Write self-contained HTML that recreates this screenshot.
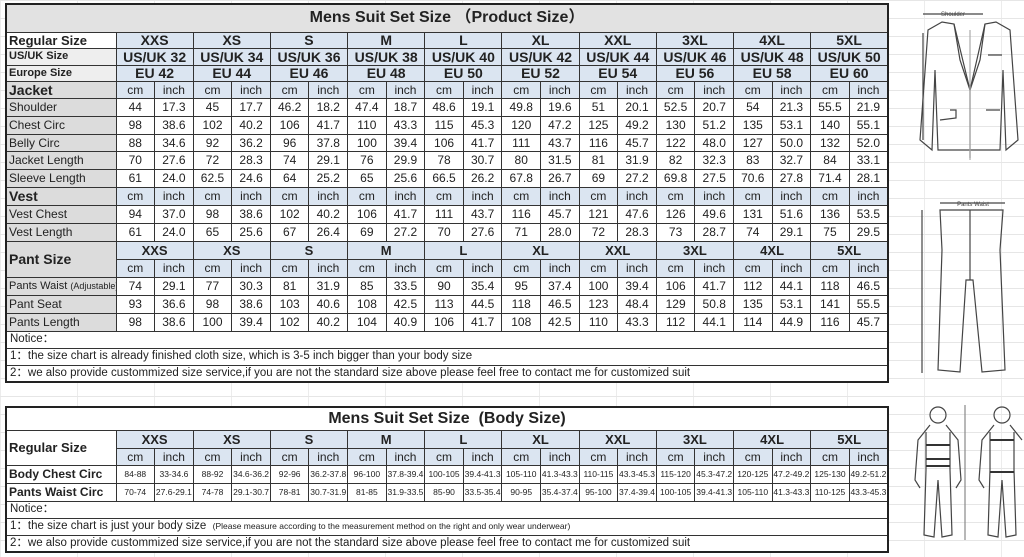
<!DOCTYPE html>
<html><head><meta charset="utf-8">
<style>
html,body{margin:0;padding:0;}
body{width:1024px;height:557px;position:relative;overflow:hidden;background:#fff;font-family:"Liberation Sans","Noto Sans CJK SC",sans-serif;
background-image:linear-gradient(#e6e6e6 1px,transparent 1px),linear-gradient(90deg,#ececec 1px,transparent 1px);background-size:100% 18px,77px 100%;}
table{position:absolute;left:5px;border-collapse:collapse;table-layout:fixed;width:882px;border:2px solid #222;background:#fff;}
td{border:1px solid #333;padding:0;text-align:center;font-size:12px;color:#222;white-space:nowrap;overflow:hidden;line-height:1;}
td.l{text-align:left;padding-left:2px;background:#dcdcdc;}
td.b{background:#dbe5f1;}
.hb{font-weight:bold;font-size:14px;}
.h2{font-weight:bold;font-size:13px;}
.lb{font-weight:bold;font-size:13px;}
.t{font-weight:bold;font-size:16px;}
td.s{font-size:8.5px;}
.n{text-align:left;padding-left:3px;font-size:11.5px;}
</style></head><body>

<table style="top:3px">
<colgroup><col style="width:110px"><col span="20" style="width:38.6px"></colgroup>
<tr style="height:28px"><td colspan="21" style="background:#e2e2e2" class="t">Mens Suit Set Size （Product Size）</td></tr>
<tr style="height:16px"><td class="l lb" style="background:#fff">Regular Size</td><td colspan="2" class="b hb">XXS</td><td colspan="2" class="b hb">XS</td><td colspan="2" class="b hb">S</td><td colspan="2" class="b hb">M</td><td colspan="2" class="b hb">L</td><td colspan="2" class="b hb">XL</td><td colspan="2" class="b hb">XXL</td><td colspan="2" class="b hb">3XL</td><td colspan="2" class="b hb">4XL</td><td colspan="2" class="b hb">5XL</td></tr>
<tr style="height:17px"><td class="l lb" style="font-size:11px;background:#eee">US/UK Size</td><td colspan="2" class="b hb">US/UK 32</td><td colspan="2" class="b hb">US/UK 34</td><td colspan="2" class="b hb">US/UK 36</td><td colspan="2" class="b hb">US/UK 38</td><td colspan="2" class="b hb">US/UK 40</td><td colspan="2" class="b hb">US/UK 42</td><td colspan="2" class="b hb">US/UK 44</td><td colspan="2" class="b hb">US/UK 46</td><td colspan="2" class="b hb">US/UK 48</td><td colspan="2" class="b hb">US/UK 50</td></tr>
<tr style="height:16px"><td class="l lb" style="font-size:11px;background:#eee">Europe Size</td><td colspan="2" class="b hb">EU 42</td><td colspan="2" class="b hb">EU 44</td><td colspan="2" class="b hb">EU 46</td><td colspan="2" class="b hb">EU 48</td><td colspan="2" class="b hb">EU 50</td><td colspan="2" class="b hb">EU 52</td><td colspan="2" class="b hb">EU 54</td><td colspan="2" class="b hb">EU 56</td><td colspan="2" class="b hb">EU 58</td><td colspan="2" class="b hb">EU 60</td></tr>
<tr style="height:17px"><td class="l hb">Jacket</td><td class="b">cm</td><td class="b">inch</td><td class="b">cm</td><td class="b">inch</td><td class="b">cm</td><td class="b">inch</td><td class="b">cm</td><td class="b">inch</td><td class="b">cm</td><td class="b">inch</td><td class="b">cm</td><td class="b">inch</td><td class="b">cm</td><td class="b">inch</td><td class="b">cm</td><td class="b">inch</td><td class="b">cm</td><td class="b">inch</td><td class="b">cm</td><td class="b">inch</td></tr>
<tr style="height:18px"><td class="l">Shoulder</td><td>44</td><td>17.3</td><td>45</td><td>17.7</td><td>46.2</td><td>18.2</td><td>47.4</td><td>18.7</td><td>48.6</td><td>19.1</td><td>49.8</td><td>19.6</td><td>51</td><td>20.1</td><td>52.5</td><td>20.7</td><td>54</td><td>21.3</td><td>55.5</td><td>21.9</td></tr>
<tr style="height:18px"><td class="l">Chest Circ</td><td>98</td><td>38.6</td><td>102</td><td>40.2</td><td>106</td><td>41.7</td><td>110</td><td>43.3</td><td>115</td><td>45.3</td><td>120</td><td>47.2</td><td>125</td><td>49.2</td><td>130</td><td>51.2</td><td>135</td><td>53.1</td><td>140</td><td>55.1</td></tr>
<tr style="height:17px"><td class="l">Belly Circ</td><td>88</td><td>34.6</td><td>92</td><td>36.2</td><td>96</td><td>37.8</td><td>100</td><td>39.4</td><td>106</td><td>41.7</td><td>111</td><td>43.7</td><td>116</td><td>45.7</td><td>122</td><td>48.0</td><td>127</td><td>50.0</td><td>132</td><td>52.0</td></tr>
<tr style="height:18px"><td class="l">Jacket Length</td><td>70</td><td>27.6</td><td>72</td><td>28.3</td><td>74</td><td>29.1</td><td>76</td><td>29.9</td><td>78</td><td>30.7</td><td>80</td><td>31.5</td><td>81</td><td>31.9</td><td>82</td><td>32.3</td><td>83</td><td>32.7</td><td>84</td><td>33.1</td></tr>
<tr style="height:18px"><td class="l">Sleeve Length</td><td>61</td><td>24.0</td><td>62.5</td><td>24.6</td><td>64</td><td>25.2</td><td>65</td><td>25.6</td><td>66.5</td><td>26.2</td><td>67.8</td><td>26.7</td><td>69</td><td>27.2</td><td>69.8</td><td>27.5</td><td>70.6</td><td>27.8</td><td>71.4</td><td>28.1</td></tr>
<tr style="height:18px"><td class="l hb">Vest</td><td class="b">cm</td><td class="b">inch</td><td class="b">cm</td><td class="b">inch</td><td class="b">cm</td><td class="b">inch</td><td class="b">cm</td><td class="b">inch</td><td class="b">cm</td><td class="b">inch</td><td class="b">cm</td><td class="b">inch</td><td class="b">cm</td><td class="b">inch</td><td class="b">cm</td><td class="b">inch</td><td class="b">cm</td><td class="b">inch</td><td class="b">cm</td><td class="b">inch</td></tr>
<tr style="height:18px"><td class="l">Vest Chest</td><td>94</td><td>37.0</td><td>98</td><td>38.6</td><td>102</td><td>40.2</td><td>106</td><td>41.7</td><td>111</td><td>43.7</td><td>116</td><td>45.7</td><td>121</td><td>47.6</td><td>126</td><td>49.6</td><td>131</td><td>51.6</td><td>136</td><td>53.5</td></tr>
<tr style="height:18px"><td class="l">Vest Length</td><td>61</td><td>24.0</td><td>65</td><td>25.6</td><td>67</td><td>26.4</td><td>69</td><td>27.2</td><td>70</td><td>27.6</td><td>71</td><td>28.0</td><td>72</td><td>28.3</td><td>73</td><td>28.7</td><td>74</td><td>29.1</td><td>75</td><td>29.5</td></tr>
<tr style="height:18px"><td class="l hb" rowspan="2">Pant Size</td><td colspan="2" class="b h2">XXS</td><td colspan="2" class="b h2">XS</td><td colspan="2" class="b h2">S</td><td colspan="2" class="b h2">M</td><td colspan="2" class="b h2">L</td><td colspan="2" class="b h2">XL</td><td colspan="2" class="b h2">XXL</td><td colspan="2" class="b h2">3XL</td><td colspan="2" class="b h2">4XL</td><td colspan="2" class="b h2">5XL</td></tr>
<tr style="height:18px"><td class="b">cm</td><td class="b">inch</td><td class="b">cm</td><td class="b">inch</td><td class="b">cm</td><td class="b">inch</td><td class="b">cm</td><td class="b">inch</td><td class="b">cm</td><td class="b">inch</td><td class="b">cm</td><td class="b">inch</td><td class="b">cm</td><td class="b">inch</td><td class="b">cm</td><td class="b">inch</td><td class="b">cm</td><td class="b">inch</td><td class="b">cm</td><td class="b">inch</td></tr>
<tr style="height:18px"><td class="l" style="font-size:11px">Pants Waist <span style="font-size:9px">(Adjustable)</span></td><td>74</td><td>29.1</td><td>77</td><td>30.3</td><td>81</td><td>31.9</td><td>85</td><td>33.5</td><td>90</td><td>35.4</td><td>95</td><td>37.4</td><td>100</td><td>39.4</td><td>106</td><td>41.7</td><td>112</td><td>44.1</td><td>118</td><td>46.5</td></tr>
<tr style="height:18px"><td class="l">Pant Seat</td><td>93</td><td>36.6</td><td>98</td><td>38.6</td><td>103</td><td>40.6</td><td>108</td><td>42.5</td><td>113</td><td>44.5</td><td>118</td><td>46.5</td><td>123</td><td>48.4</td><td>129</td><td>50.8</td><td>135</td><td>53.1</td><td>141</td><td>55.5</td></tr>
<tr style="height:18px"><td class="l">Pants Length</td><td>98</td><td>38.6</td><td>100</td><td>39.4</td><td>102</td><td>40.2</td><td>104</td><td>40.9</td><td>106</td><td>41.7</td><td>108</td><td>42.5</td><td>110</td><td>43.3</td><td>112</td><td>44.1</td><td>114</td><td>44.9</td><td>116</td><td>45.7</td></tr>
<tr style="height:17px"><td colspan="21" class="n">Notice：</td></tr>
<tr style="height:17px"><td colspan="21" class="n">1：the size chart is already finished cloth size, which is 3-5 inch bigger than your body size</td></tr>
<tr style="height:17px"><td colspan="21" class="n">2：we also provide custommized size service,if you are not the standard size above please feel free to contact me for customized suit</td></tr>
</table>

<table style="top:406px">
<colgroup><col style="width:110px"><col span="20" style="width:38.6px"></colgroup>
<tr style="height:23px"><td colspan="21" class="t">Mens Suit Set Size &nbsp;(Body Size)</td></tr>
<tr style="height:18px"><td rowspan="2" class="l lb" style="background:#fff">Regular Size</td><td colspan="2" class="b h2">XXS</td><td colspan="2" class="b h2">XS</td><td colspan="2" class="b h2">S</td><td colspan="2" class="b h2">M</td><td colspan="2" class="b h2">L</td><td colspan="2" class="b h2">XL</td><td colspan="2" class="b h2">XXL</td><td colspan="2" class="b h2">3XL</td><td colspan="2" class="b h2">4XL</td><td colspan="2" class="b h2">5XL</td></tr>
<tr style="height:17px"><td class="b">cm</td><td class="b">inch</td><td class="b">cm</td><td class="b">inch</td><td class="b">cm</td><td class="b">inch</td><td class="b">cm</td><td class="b">inch</td><td class="b">cm</td><td class="b">inch</td><td class="b">cm</td><td class="b">inch</td><td class="b">cm</td><td class="b">inch</td><td class="b">cm</td><td class="b">inch</td><td class="b">cm</td><td class="b">inch</td><td class="b">cm</td><td class="b">inch</td></tr>
<tr style="height:18px"><td class="l lb" style="background:#fff;font-size:12px">Body Chest Circ</td><td class="s">84-88</td><td class="s">33-34.6</td><td class="s">88-92</td><td class="s">34.6-36.2</td><td class="s">92-96</td><td class="s">36.2-37.8</td><td class="s">96-100</td><td class="s">37.8-39.4</td><td class="s">100-105</td><td class="s">39.4-41.3</td><td class="s">105-110</td><td class="s">41.3-43.3</td><td class="s">110-115</td><td class="s">43.3-45.3</td><td class="s">115-120</td><td class="s">45.3-47.2</td><td class="s">120-125</td><td class="s">47.2-49.2</td><td class="s">125-130</td><td class="s">49.2-51.2</td></tr>
<tr style="height:18px"><td class="l lb" style="background:#fff;font-size:12px">Pants Waist Circ</td><td class="s">70-74</td><td class="s">27.6-29.1</td><td class="s">74-78</td><td class="s">29.1-30.7</td><td class="s">78-81</td><td class="s">30.7-31.9</td><td class="s">81-85</td><td class="s">31.9-33.5</td><td class="s">85-90</td><td class="s">33.5-35.4</td><td class="s">90-95</td><td class="s">35.4-37.4</td><td class="s">95-100</td><td class="s">37.4-39.4</td><td class="s">100-105</td><td class="s">39.4-41.3</td><td class="s">105-110</td><td class="s">41.3-43.3</td><td class="s">110-125</td><td class="s">43.3-45.3</td></tr>
<tr style="height:17px"><td colspan="21" class="n">Notice：</td></tr>
<tr style="height:17px"><td colspan="21" class="n">1：the size chart is just your body size &nbsp;<span style="font-size:8.5px">(Please measure according to the measurement method on the right and only wear underwear)</span></td></tr>
<tr style="height:17px"><td colspan="21" class="n">2：we also provide custommized size service,if you are not the standard size above please feel free to contact me for customized suit</td></tr>
</table>

<svg style="position:absolute;left:890px;top:0" width="134" height="557" viewBox="0 0 134 557">
<g fill="none" stroke="#444" stroke-width="1.2">
<line x1="33" y1="14" x2="93" y2="14"/>
<path d="M52 22 L38 30 L30 140 L42 150 L45 70 L48 150 L110 150 L113 70 L116 150 L128 140 L120 30 L106 22 L95 24 L80 90 L64 24 Z"/>
<path d="M64 24 L70 60 L80 90 M95 24 L90 60 L80 90"/>
<path d="M80 90 L80 158 M60 110 L66 110 L66 118 L50 120 M96 110 L110 110 M98 55 L112 55"/>
<line x1="33" y1="33" x2="33" y2="140"/>
<line x1="80" y1="30" x2="80" y2="160" stroke="#aaa"/>
<line x1="50" y1="203" x2="115" y2="203"/>
<path d="M50 210 L113 210 L110 250 L115 370 L92 372 L83 280 L76 280 L70 372 L48 370 L52 250 Z"/>
<line x1="80" y1="210" x2="80" y2="280"/>
<line x1="32" y1="210" x2="32" y2="373"/>
<circle cx="48" cy="415" r="8"/>
<path d="M40 425 L28 440 L25 480 L30 488 M56 425 L68 440 L71 480 L66 488 M36 432 L36 470 L34 535 L44 537 L48 480 L52 537 L62 535 L60 470 L60 432"/>
<line x1="75" y1="405" x2="75" y2="540" stroke="#888"/>
<circle cx="112" cy="415" r="8"/>
<path d="M104 425 L92 440 L89 480 L94 488 M120 425 L132 440 M100 432 L100 470 L98 535 L108 537 L112 480 L116 537 L126 535 L124 470 L124 432"/>
</g>
<g stroke="#333" stroke-width="2"><line x1="36" y1="445" x2="60" y2="445"/><line x1="36" y1="459" x2="60" y2="459"/><line x1="36" y1="466" x2="60" y2="466"/><line x1="100" y1="440" x2="124" y2="440"/><line x1="100" y1="472" x2="124" y2="472"/></g>
<text x="63" y="16" font-size="6" fill="#444" font-family="Liberation Sans" text-anchor="middle">Shoulder</text>
<text x="83" y="206" font-size="6" fill="#444" font-family="Liberation Sans" text-anchor="middle">Pants Waist</text>
</svg>
</body></html>
